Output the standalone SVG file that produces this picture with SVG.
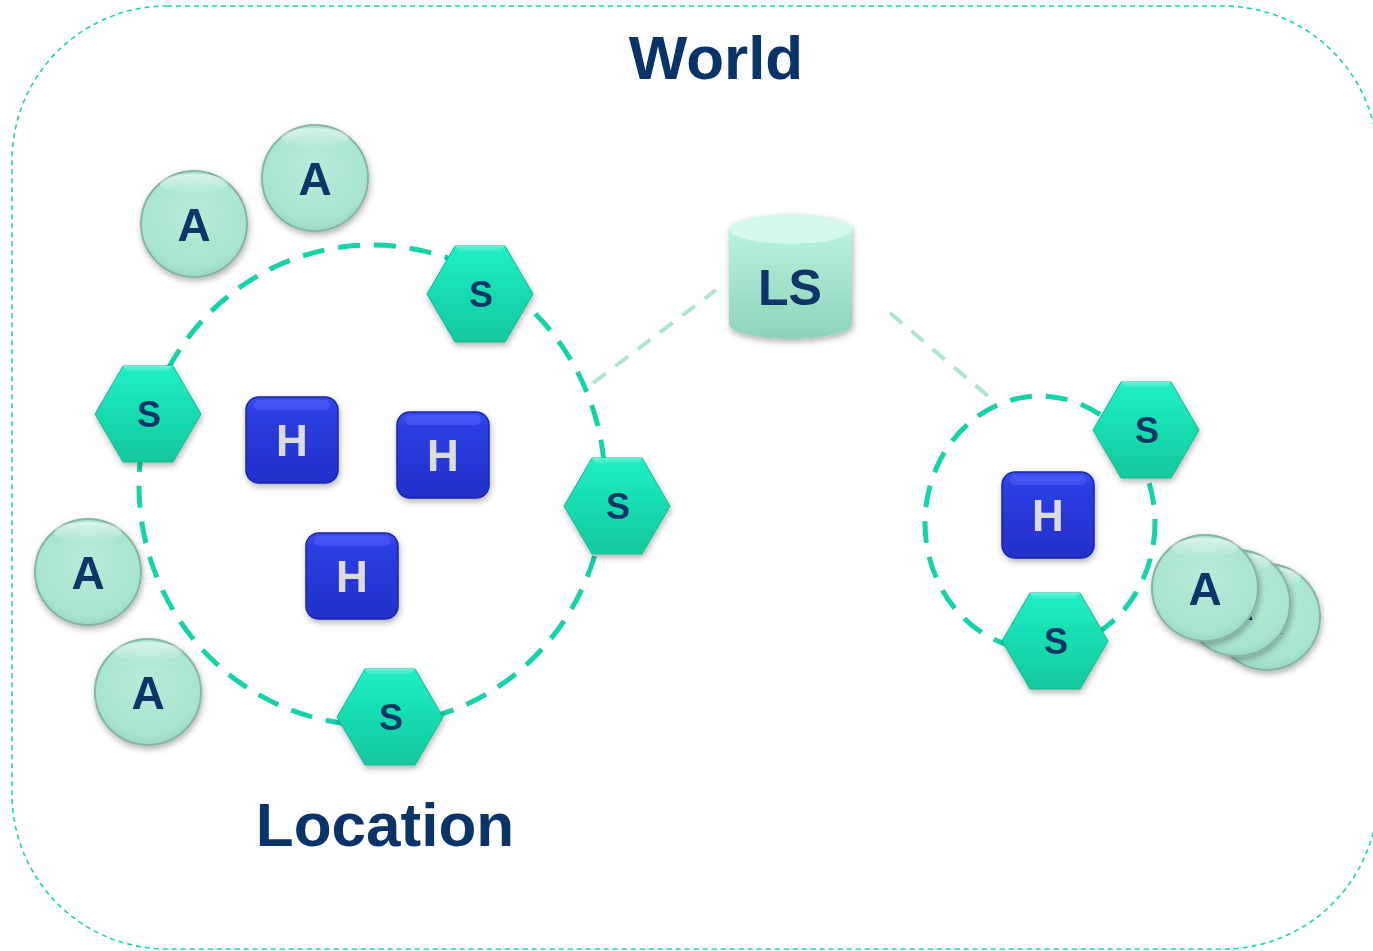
<svg xmlns="http://www.w3.org/2000/svg" width="1373" height="951" viewBox="0 0 1373 951">
<defs>
<linearGradient id="hexG" x1="0" y1="0" x2="0" y2="1">
<stop offset="0" stop-color="#1ff0c4"/>
<stop offset="0.5" stop-color="#17dcb0"/>
<stop offset="1" stop-color="#12c89e"/>
</linearGradient>
<linearGradient id="hexTop" x1="0" y1="0" x2="0" y2="1">
<stop offset="0" stop-color="#5ff8da"/>
<stop offset="1" stop-color="#1ee8bc"/>
</linearGradient>
<radialGradient id="aG" cx="0.5" cy="0.4" r="0.6">
<stop offset="0" stop-color="#b4ecd8"/>
<stop offset="0.85" stop-color="#a8e4cf"/>
<stop offset="1" stop-color="#9ad8c2"/>
</radialGradient>
<linearGradient id="aHi" x1="0" y1="0" x2="0" y2="1">
<stop offset="0" stop-color="#ffffff" stop-opacity="0.55"/>
<stop offset="1" stop-color="#ffffff" stop-opacity="0"/>
</linearGradient>
<linearGradient id="hG" x1="0" y1="0" x2="0" y2="1">
<stop offset="0" stop-color="#3a4cf0"/>
<stop offset="0.15" stop-color="#2d3ee4"/>
<stop offset="1" stop-color="#2230c8"/>
</linearGradient>
<linearGradient id="cylG" x1="0" y1="0" x2="0" y2="1">
<stop offset="0" stop-color="#b8f2de"/>
<stop offset="1" stop-color="#8fd2ba"/>
</linearGradient>
<filter id="sh" x="-20%" y="-20%" width="140%" height="150%">
<feDropShadow dx="1" dy="3" stdDeviation="3" flood-color="#000" flood-opacity="0.3"/>
</filter>
<g id="hex">
<polygon points="-53,0 -25,-48 25,-48 53,0 25,48 -25,48" fill="url(#hexG)" stroke="#12b892" stroke-width="1"/>
<polygon points="-25,-48 25,-48 20,-41 -20,-41" fill="url(#hexTop)"/>
</g>
<g id="acirc">
<circle r="53" fill="url(#aG)" stroke="#86b5a5" stroke-width="2"/>
<ellipse cx="0" cy="-40" rx="34" ry="10" fill="url(#aHi)"/>
</g>
<g id="hbox">
<rect x="-46" y="-43" width="92" height="86" rx="13" fill="url(#hG)" stroke="#1a25a8" stroke-width="1.5"/>
<rect x="-38" y="-40" width="76" height="10" rx="5" fill="#5a6cff" opacity="0.4"/>
</g>
</defs>
<style>
.title{font-family:"Liberation Sans",Arial,sans-serif;font-weight:bold;fill:#0a3467;font-size:62px;text-anchor:middle}
.lbl{font-family:"Liberation Sans",Arial,sans-serif;font-weight:bold;fill:#0a3467;text-anchor:middle}
.s{font-size:36px}
.a{font-size:46px}
.h{font-size:44px;fill:#dcdcdc}
.conn{fill:none;stroke:#ace6d2;stroke-width:4;stroke-dasharray:16 12}
.loc{fill:none;stroke:#14d3a6;stroke-width:5;stroke-dasharray:22 14}
</style>
<rect id="world" x="12" y="6" width="1366" height="943" rx="155" ry="155" fill="#fff" stroke="#19d6ac" stroke-width="1.6" stroke-dasharray="5 4"/>
<text class="title" x="716" y="79">World</text>
<text class="title" x="385" y="846">Location</text>

<g id="connectors">
<line class="conn" x1="593" y1="383" x2="716" y2="290"/>
<line class="conn" x1="890" y1="313" x2="988" y2="396"/>
</g>

<ellipse id="location1" class="loc" cx="372" cy="485" rx="233" ry="240"/>
<ellipse id="location2" class="loc" cx="1040" cy="523" rx="115" ry="127"/>

<g id="ls" filter="url(#sh)">
<path d="M729,229 L729,324 A61.5,15 0 0 0 852,324 L852,229 Z" fill="url(#cylG)"/>
<ellipse cx="790.5" cy="229" rx="61.5" ry="15" fill="#d4f8ec"/>
<text class="lbl" x="790" y="305" font-size="50">LS</text>
</g>

<g id="a1" filter="url(#sh)"><use href="#acirc" x="194" y="224"/><text class="lbl a" x="194" y="241">A</text></g>
<g id="a2" filter="url(#sh)"><use href="#acirc" x="315" y="178"/><text class="lbl a" x="315" y="195">A</text></g>
<g id="a3" filter="url(#sh)"><use href="#acirc" x="88" y="572"/><text class="lbl a" x="88" y="589">A</text></g>
<g id="a4" filter="url(#sh)"><use href="#acirc" x="148" y="692"/><text class="lbl a" x="148" y="709">A</text></g>
<g id="a5" filter="url(#sh)"><use href="#acirc" x="1267" y="617"/><text class="lbl a" x="1267" y="634">A</text></g>
<g id="a6" filter="url(#sh)"><use href="#acirc" x="1237" y="603"/><text class="lbl a" x="1237" y="620">A</text></g>
<g id="a7" filter="url(#sh)"><use href="#acirc" x="1205" y="588"/><text class="lbl a" x="1205" y="605">A</text></g>

<g id="h1" filter="url(#sh)"><use href="#hbox" x="292" y="440"/><text class="lbl h" x="292" y="456">H</text></g>
<g id="h2" filter="url(#sh)"><use href="#hbox" x="443" y="455"/><text class="lbl h" x="443" y="471">H</text></g>
<g id="h3" filter="url(#sh)"><use href="#hbox" x="352" y="576"/><text class="lbl h" x="352" y="592">H</text></g>
<g id="h4" filter="url(#sh)"><use href="#hbox" x="1048" y="515"/><text class="lbl h" x="1048" y="531">H</text></g>

<g id="s1" filter="url(#sh)"><use href="#hex" x="480" y="294"/><text class="lbl s" x="481" y="307">S</text></g>
<g id="s2" filter="url(#sh)"><use href="#hex" x="148" y="414"/><text class="lbl s" x="149" y="427">S</text></g>
<g id="s3" filter="url(#sh)"><use href="#hex" x="617" y="506"/><text class="lbl s" x="618" y="519">S</text></g>
<g id="s4" filter="url(#sh)"><use href="#hex" x="390" y="717"/><text class="lbl s" x="391" y="730">S</text></g>
<g id="s5" filter="url(#sh)"><use href="#hex" x="1146" y="430"/><text class="lbl s" x="1147" y="443">S</text></g>
<g id="s6" filter="url(#sh)"><use href="#hex" x="1055" y="641"/><text class="lbl s" x="1056" y="654">S</text></g>
</svg>
